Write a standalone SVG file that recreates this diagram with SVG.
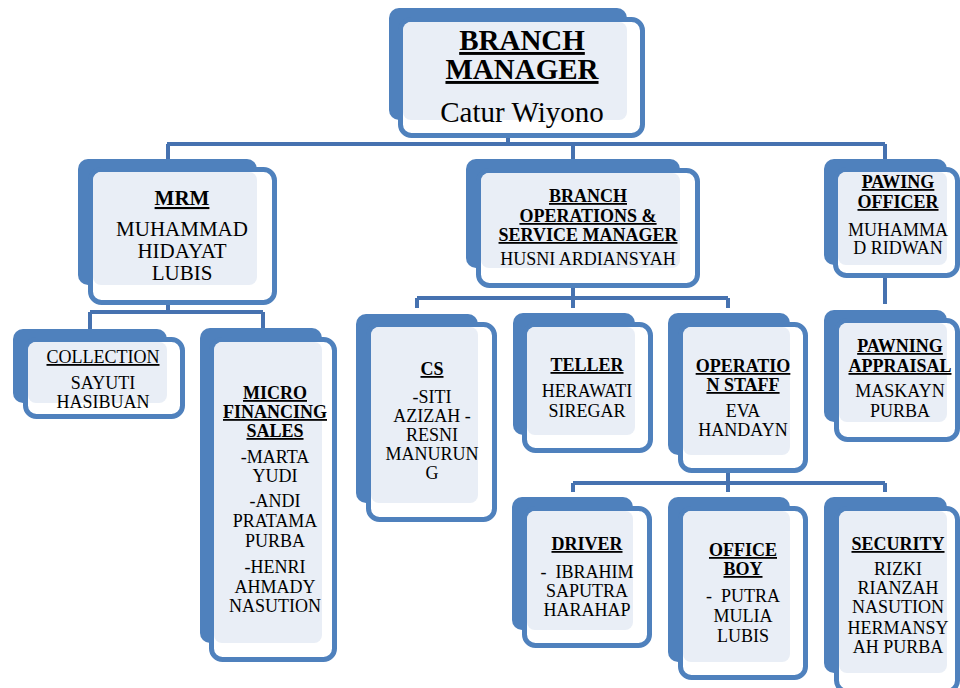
<svg xmlns="http://www.w3.org/2000/svg" width="960" height="688" viewBox="0 0 960 688">
<style>
.back{fill:#4f81bd}
.frame{fill:#ffffff;stroke:#4f81bd;stroke-width:5}
.light{fill:#e9eef6}
.conn{fill:none;stroke:#4672b0;stroke-width:4}
.b{font-weight:bold;text-decoration:underline}
.u{text-decoration:underline}
</style>
<rect width="960" height="688" fill="#ffffff"/>
<g id="connectors">
<path class="conn" d="M508 136V144M167 144H885M168 144V168M573 144V169M885 144V168"/>
<path class="conn" d="M168 304V312M90 312H263M90 312V329M263 312V328"/>
<path class="conn" d="M573 287V298M417 298H728M417 298V308M573 298V308M728 298V308"/>
<path class="conn" d="M885 277V304"/>
<path class="conn" d="M728 472V483M573 483H885M573 483V492M728 483V492M885 483V492"/>
</g>
<g id="branch-manager">
<rect class="back" x="389" y="8" width="238" height="112" rx="10"/>
<rect class="frame" x="400.5" y="19.5" width="242" height="116" rx="11"/>
<rect class="light" x="403" y="22" width="224" height="98" rx="8"/>
<text class="b" x="522" y="50" text-anchor="middle" font-family="Times New Roman, Liberation Serif, Tinos, serif" font-size="29">BRANCH</text>
<text class="b" x="522" y="79" text-anchor="middle" font-family="Times New Roman, Liberation Serif, Tinos, serif" font-size="29">MANAGER</text>
<text x="522" y="122" text-anchor="middle" font-family="Times New Roman, Liberation Serif, Tinos, serif" font-size="29">Catur Wiyono</text>
</g>
<g id="mrm">
<rect class="back" x="78" y="159" width="179" height="126" rx="10"/>
<rect class="frame" x="90.5" y="169.5" width="184" height="133" rx="11"/>
<rect class="light" x="93" y="172" width="164" height="113" rx="8"/>
<text class="b" x="182" y="205" text-anchor="middle" font-family="Times New Roman, Liberation Serif, Tinos, serif" font-size="21">MRM</text>
<text x="182" y="236" text-anchor="middle" font-family="Times New Roman, Liberation Serif, Tinos, serif" font-size="21">MUHAMMAD</text>
<text x="182" y="258" text-anchor="middle" font-family="Times New Roman, Liberation Serif, Tinos, serif" font-size="21">HIDAYAT</text>
<text x="182" y="280" text-anchor="middle" font-family="Times New Roman, Liberation Serif, Tinos, serif" font-size="21">LUBIS</text>
</g>
<g id="branch-operations">
<rect class="back" x="466" y="159" width="214" height="109" rx="10"/>
<rect class="frame" x="478.5" y="170.5" width="219" height="115" rx="11"/>
<rect class="light" x="481" y="173" width="199" height="95" rx="8"/>
<text class="b" x="588" y="202" text-anchor="middle" font-family="Times New Roman, Liberation Serif, Tinos, serif" font-size="18">BRANCH</text>
<text class="b" x="588" y="222" text-anchor="middle" font-family="Times New Roman, Liberation Serif, Tinos, serif" font-size="18">OPERATIONS &amp;</text>
<text class="b" x="588" y="241" text-anchor="middle" font-family="Times New Roman, Liberation Serif, Tinos, serif" font-size="18">SERVICE MANAGER</text>
<text x="588" y="265" text-anchor="middle" font-family="Times New Roman, Liberation Serif, Tinos, serif" font-size="18">HUSNI ARDIANSYAH</text>
</g>
<g id="pawing-officer">
<rect class="back" x="824" y="159" width="123" height="106" rx="10"/>
<rect class="frame" x="835.5" y="169.5" width="122" height="106" rx="11"/>
<rect class="light" x="838" y="172" width="109" height="93" rx="8"/>
<text class="b" x="898" y="188" text-anchor="middle" font-family="Times New Roman, Liberation Serif, Tinos, serif" font-size="18">PAWING</text>
<text class="b" x="898" y="208" text-anchor="middle" font-family="Times New Roman, Liberation Serif, Tinos, serif" font-size="18">OFFICER</text>
<text x="898" y="236" text-anchor="middle" font-family="Times New Roman, Liberation Serif, Tinos, serif" font-size="18">MUHAMMA</text>
<text x="898" y="254" text-anchor="middle" font-family="Times New Roman, Liberation Serif, Tinos, serif" font-size="18">D RIDWAN</text>
</g>
<g id="collection">
<rect class="back" x="13" y="329" width="154" height="74" rx="10"/>
<rect class="frame" x="25.5" y="339.5" width="157" height="77" rx="11"/>
<rect class="light" x="28" y="342" width="139" height="61" rx="8"/>
<text class="u" x="103" y="363" text-anchor="middle" font-family="Times New Roman, Liberation Serif, Tinos, serif" font-size="18">COLLECTION</text>
<text x="103" y="389" text-anchor="middle" font-family="Times New Roman, Liberation Serif, Tinos, serif" font-size="18">SAYUTI</text>
<text x="103" y="408" text-anchor="middle" font-family="Times New Roman, Liberation Serif, Tinos, serif" font-size="18">HASIBUAN</text>
</g>
<g id="micro-financing-sales">
<rect class="back" x="200" y="328" width="122" height="315" rx="10"/>
<rect class="frame" x="211.5" y="339.5" width="123" height="320" rx="11"/>
<rect class="light" x="214" y="342" width="108" height="301" rx="8"/>
<text class="b" x="275" y="399" text-anchor="middle" font-family="Times New Roman, Liberation Serif, Tinos, serif" font-size="18">MICRO</text>
<text class="b" x="275" y="418" text-anchor="middle" font-family="Times New Roman, Liberation Serif, Tinos, serif" font-size="18">FINANCING</text>
<text class="b" x="275" y="437" text-anchor="middle" font-family="Times New Roman, Liberation Serif, Tinos, serif" font-size="18">SALES</text>
<text x="275" y="463" text-anchor="middle" font-family="Times New Roman, Liberation Serif, Tinos, serif" font-size="18">-MARTA</text>
<text x="275" y="482" text-anchor="middle" font-family="Times New Roman, Liberation Serif, Tinos, serif" font-size="18">YUDI</text>
<text x="275" y="507" text-anchor="middle" font-family="Times New Roman, Liberation Serif, Tinos, serif" font-size="18">-ANDI</text>
<text x="275" y="527" text-anchor="middle" font-family="Times New Roman, Liberation Serif, Tinos, serif" font-size="18">PRATAMA</text>
<text x="275" y="547" text-anchor="middle" font-family="Times New Roman, Liberation Serif, Tinos, serif" font-size="18">PURBA</text>
<text x="275" y="573" text-anchor="middle" font-family="Times New Roman, Liberation Serif, Tinos, serif" font-size="18">-HENRI</text>
<text x="275" y="593" text-anchor="middle" font-family="Times New Roman, Liberation Serif, Tinos, serif" font-size="18">AHMADY</text>
<text x="275" y="612" text-anchor="middle" font-family="Times New Roman, Liberation Serif, Tinos, serif" font-size="18">NASUTION</text>
</g>
<g id="cs">
<rect class="back" x="356" y="314" width="122" height="189" rx="10"/>
<rect class="frame" x="368.5" y="324.5" width="126" height="195" rx="11"/>
<rect class="light" x="371" y="327" width="107" height="176" rx="8"/>
<text class="b" x="432" y="375" text-anchor="middle" font-family="Times New Roman, Liberation Serif, Tinos, serif" font-size="18">CS</text>
<text x="432" y="403" text-anchor="middle" font-family="Times New Roman, Liberation Serif, Tinos, serif" font-size="18">-SITI</text>
<text x="432" y="422" text-anchor="middle" font-family="Times New Roman, Liberation Serif, Tinos, serif" font-size="18">AZIZAH -</text>
<text x="432" y="441" text-anchor="middle" font-family="Times New Roman, Liberation Serif, Tinos, serif" font-size="18">RESNI</text>
<text x="432" y="460" text-anchor="middle" font-family="Times New Roman, Liberation Serif, Tinos, serif" font-size="18">MANURUN</text>
<text x="432" y="479" text-anchor="middle" font-family="Times New Roman, Liberation Serif, Tinos, serif" font-size="18">G</text>
</g>
<g id="teller">
<rect class="back" x="513" y="313" width="122" height="122" rx="10"/>
<rect class="frame" x="524.5" y="324.5" width="126" height="126" rx="11"/>
<rect class="light" x="527" y="327" width="108" height="108" rx="8"/>
<text class="b" x="587" y="371" text-anchor="middle" font-family="Times New Roman, Liberation Serif, Tinos, serif" font-size="18">TELLER</text>
<text x="587" y="397" text-anchor="middle" font-family="Times New Roman, Liberation Serif, Tinos, serif" font-size="18">HERAWATI</text>
<text x="587" y="417" text-anchor="middle" font-family="Times New Roman, Liberation Serif, Tinos, serif" font-size="18">SIREGAR</text>
</g>
<g id="operation-staff">
<rect class="back" x="668" y="313" width="122" height="142" rx="10"/>
<rect class="frame" x="680.5" y="324.5" width="125" height="146" rx="11"/>
<rect class="light" x="683" y="327" width="107" height="128" rx="8"/>
<text class="b" x="743" y="372" text-anchor="middle" font-family="Times New Roman, Liberation Serif, Tinos, serif" font-size="18">OPERATIO</text>
<text class="b" x="743" y="391" text-anchor="middle" font-family="Times New Roman, Liberation Serif, Tinos, serif" font-size="18">N STAFF</text>
<text x="743" y="417" text-anchor="middle" font-family="Times New Roman, Liberation Serif, Tinos, serif" font-size="18">EVA</text>
<text x="743" y="436" text-anchor="middle" font-family="Times New Roman, Liberation Serif, Tinos, serif" font-size="18">HANDAYN</text>
</g>
<g id="pawning-appraisal">
<rect class="back" x="824" y="310" width="123" height="112" rx="10"/>
<rect class="frame" x="836.5" y="320.5" width="121" height="119" rx="11"/>
<rect class="light" x="839" y="323" width="108" height="99" rx="8"/>
<text class="b" x="900" y="352" text-anchor="middle" font-family="Times New Roman, Liberation Serif, Tinos, serif" font-size="18">PAWNING</text>
<text class="b" x="900" y="372" text-anchor="middle" font-family="Times New Roman, Liberation Serif, Tinos, serif" font-size="18">APPRAISAL</text>
<text x="900" y="397" text-anchor="middle" font-family="Times New Roman, Liberation Serif, Tinos, serif" font-size="18">MASKAYN</text>
<text x="900" y="417" text-anchor="middle" font-family="Times New Roman, Liberation Serif, Tinos, serif" font-size="18">PURBA</text>
</g>
<g id="driver">
<rect class="back" x="512" y="497" width="121" height="133" rx="10"/>
<rect class="frame" x="524.5" y="508.5" width="125" height="137" rx="11"/>
<rect class="light" x="527" y="511" width="106" height="119" rx="8"/>
<text class="b" x="587" y="550" text-anchor="middle" font-family="Times New Roman, Liberation Serif, Tinos, serif" font-size="18">DRIVER</text>
<text x="587" y="578" text-anchor="middle" font-family="Times New Roman, Liberation Serif, Tinos, serif" font-size="18" xml:space="preserve">-  IBRAHIM</text>
<text x="587" y="597" text-anchor="middle" font-family="Times New Roman, Liberation Serif, Tinos, serif" font-size="18">SAPUTRA</text>
<text x="587" y="616" text-anchor="middle" font-family="Times New Roman, Liberation Serif, Tinos, serif" font-size="18">HARAHAP</text>
</g>
<g id="office-boy">
<rect class="back" x="668" y="497" width="122" height="165" rx="10"/>
<rect class="frame" x="680.5" y="508.5" width="125" height="169" rx="11"/>
<rect class="light" x="683" y="511" width="107" height="151" rx="8"/>
<text class="b" x="743" y="556" text-anchor="middle" font-family="Times New Roman, Liberation Serif, Tinos, serif" font-size="18">OFFICE</text>
<text class="b" x="743" y="575" text-anchor="middle" font-family="Times New Roman, Liberation Serif, Tinos, serif" font-size="18">BOY</text>
<text x="743" y="602" text-anchor="middle" font-family="Times New Roman, Liberation Serif, Tinos, serif" font-size="18" xml:space="preserve">-  PUTRA</text>
<text x="743" y="622" text-anchor="middle" font-family="Times New Roman, Liberation Serif, Tinos, serif" font-size="18">MULIA</text>
<text x="743" y="642" text-anchor="middle" font-family="Times New Roman, Liberation Serif, Tinos, serif" font-size="18">LUBIS</text>
</g>
<g id="security">
<rect class="back" x="824" y="497" width="123" height="176" rx="10"/>
<rect class="frame" x="836.5" y="508.5" width="121" height="183" rx="11"/>
<rect class="light" x="839" y="511" width="108" height="162" rx="8"/>
<text class="b" x="898" y="550" text-anchor="middle" font-family="Times New Roman, Liberation Serif, Tinos, serif" font-size="18">SECURITY</text>
<text x="898" y="575" text-anchor="middle" font-family="Times New Roman, Liberation Serif, Tinos, serif" font-size="18">RIZKI</text>
<text x="898" y="594" text-anchor="middle" font-family="Times New Roman, Liberation Serif, Tinos, serif" font-size="18">RIANZAH</text>
<text x="898" y="613" text-anchor="middle" font-family="Times New Roman, Liberation Serif, Tinos, serif" font-size="18">NASUTION</text>
<text x="898" y="634" text-anchor="middle" font-family="Times New Roman, Liberation Serif, Tinos, serif" font-size="18">HERMANSY</text>
<text x="898" y="653" text-anchor="middle" font-family="Times New Roman, Liberation Serif, Tinos, serif" font-size="18">AH PURBA</text>
</g>
</svg>
